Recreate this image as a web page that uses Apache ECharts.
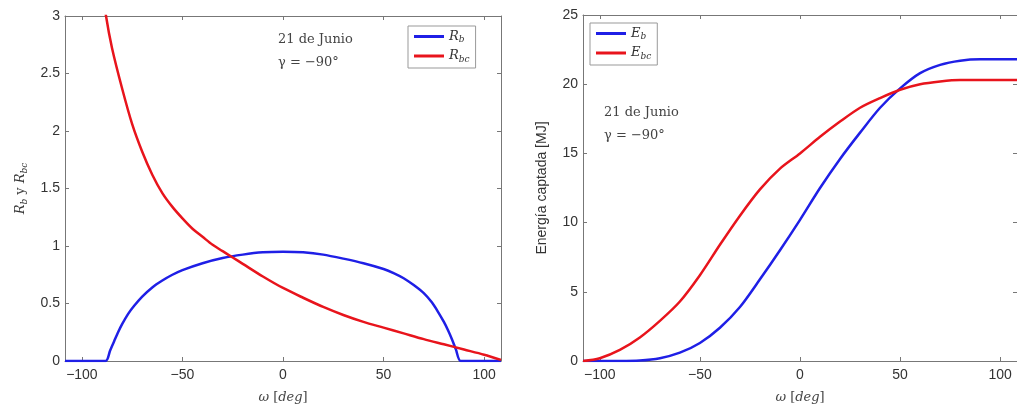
<!DOCTYPE html>
<html>
<head>
<meta charset="utf-8">
<script src="https://cdn.jsdelivr.net/npm/echarts@6/dist/echarts.min.js"></script>
<style>
  html, body { margin: 0; padding: 0; background: #fff; }
  #chart { width: 1017px; height: 409px; }
</style>
</head>
<body>
<div id="chart"></div>
<script>
  // angulo horario [deg]
  var omegaRb = [-108.4, -88.2, -86, -84, -82, -80, -77, -74, -70, -65, -60, -55, -50, -40, -30, -20, -10, 0, 10, 20, 30, 40, 50, 55, 60, 65, 70, 74, 77, 80, 82, 84, 86, 88.4, 108.4]
  var rbValues = [0, 0, 0.09, 0.17, 0.25, 0.32, 0.41, 0.48, 0.56, 0.64, 0.70, 0.75, 0.79, 0.85, 0.895, 0.925, 0.945, 0.95, 0.945, 0.925, 0.89, 0.85, 0.80, 0.765, 0.72, 0.66, 0.59, 0.51, 0.43, 0.34, 0.27, 0.19, 0.10, 0, 0]

  var omegaRbc = [-92, -88, -85, -80, -75, -70, -65, -60, -55, -50, -45, -40, -35, -30, -25, -20, -10, 0, 10, 20, 30, 40, 50, 60, 70, 80, 90, 100, 108.4]
  var rbcValues = [3.5, 3.0, 2.72, 2.37, 2.06, 1.82, 1.62, 1.46, 1.34, 1.24, 1.15, 1.08, 1.01, 0.955, 0.9, 0.845, 0.735, 0.635, 0.55, 0.47, 0.40, 0.34, 0.29, 0.24, 0.19, 0.145, 0.10, 0.055, 0.01]

  var omegaE = [-108.4, -100, -90, -80, -70, -60, -50, -40, -30, -20, -10, 0, 10, 20, 30, 40, 50, 60, 70, 80, 90, 100, 108.4]
  var ebValues = [0, 0, 0, 0.03, 0.2, 0.6, 1.3, 2.4, 3.9, 5.9, 8.0, 10.2, 12.5, 14.6, 16.5, 18.3, 19.7, 20.8, 21.4, 21.7, 21.8, 21.8, 21.8]
  var ebcValues = [0, 0.2, 0.8, 1.7, 2.9, 4.3, 6.2, 8.4, 10.5, 12.4, 13.9, 15.0, 16.2, 17.3, 18.3, 19.0, 19.6, 20.0, 20.2, 20.3, 20.3, 20.3, 20.3]

  var xTicks = [-100, -50, 0, 50, 100]
  var rTicks = [0, 0.5, 1, 1.5, 2, 2.5, 3]
  var eTicks = [0, 5, 10, 15, 20, 25]

  var blue = '#1f1fe6'
  var red = '#e8141c'
  var axisCol = '#777'
  var labelFont = 'Liberation Sans'
  var serif = 'DejaVu Serif'

  function pairs(xs, ys) {
    return xs.map(function (x, i) { return [x, ys[i]] })
  }

  function mainX(grid) {
    return {
      type: 'value', gridIndex: grid, min: -108.4, max: 108.4, position: 'bottom',
      name: '{w|ω} [{w|deg}]', nameLocation: 'middle', nameGap: 30,
      nameTextStyle: { fontFamily: serif, fontSize: 13, color: '#444',
        rich: { w: { fontFamily: serif, fontStyle: 'italic', fontSize: 13, color: '#444' } } },
      axisLine: { show: true, onZero: false, lineStyle: { color: axisCol, width: 1 } },
      axisTick: { show: true, inside: true, length: 4, customValues: xTicks, lineStyle: { color: axisCol } },
      axisLabel: { customValues: xTicks, fontFamily: labelFont, fontSize: 14, color: '#333', margin: 7,
        formatter: function (v) { return String(v).replace('-', '\u2212') } },
      splitLine: { show: false }
    }
  }
  function topX(grid) {
    return {
      type: 'value', gridIndex: grid, min: -108.4, max: 108.4, position: 'top',
      axisLine: { show: true, onZero: false, lineStyle: { color: axisCol, width: 1 } },
      axisTick: { show: true, inside: true, length: 4, customValues: xTicks, lineStyle: { color: axisCol } },
      axisLabel: { show: false }, splitLine: { show: false }
    }
  }
  function mainY(grid, max, ticks, name, nameGap, nameStyle) {
    return {
      type: 'value', gridIndex: grid, min: 0, max: max, position: 'left',
      name: name, nameLocation: 'middle', nameGap: nameGap, nameTextStyle: nameStyle,
      axisLine: { show: true, onZero: false, lineStyle: { color: axisCol, width: 1 } },
      axisTick: { show: true, inside: true, length: 4, customValues: ticks, lineStyle: { color: axisCol } },
      axisLabel: { customValues: ticks, fontFamily: labelFont, fontSize: 14, color: '#333', margin: 5 },
      splitLine: { show: false }
    }
  }
  function rightY(grid, max, ticks) {
    return {
      type: 'value', gridIndex: grid, min: 0, max: max, position: 'right',
      axisLine: { show: true, onZero: false, lineStyle: { color: axisCol, width: 1 } },
      axisTick: { show: true, inside: true, length: 4, customValues: ticks, lineStyle: { color: axisCol } },
      axisLabel: { show: false }, splitLine: { show: false }
    }
  }

  var subRich = {
    i: { fontFamily: serif, fontStyle: 'italic', fontSize: 13, color: '#333' },
    s: { fontFamily: serif, fontStyle: 'italic', fontSize: 9, color: '#333', padding: [7, 0, 0, 0] }
  }
  var legendBase = {
    orient: 'vertical', itemWidth: 30, itemHeight: 3, itemGap: 5, icon: 'rect',
    borderColor: '#999', borderWidth: 1, backgroundColor: '#fff', padding: [4, 6, 4, 6],
    textStyle: { rich: subRich },
    formatter: function (name) {
      var p = name.split('_')
      return '{i|' + p[0] + '}{s|' + p[1] + '}'
    }
  }

  var option = {
    animation: false,
    backgroundColor: '#fff',
    grid: [
      { left: 65, top: 16, width: 436, height: 347 },
      { left: 583, top: 15, width: 436, height: 348 }
    ],
    xAxis: [mainX(0), topX(0), mainX(1), topX(1)],
    yAxis: [
      mainY(0, 3, rTicks, '{i|R}{s|b} y {i|R}{s|bc}', 36,
        { fontFamily: serif, fontSize: 13, color: '#444', rich: subRich }),
      rightY(0, 3, rTicks),
      mainY(1, 25, eTicks, 'Energía captada [MJ]', 34,
        { fontFamily: labelFont, fontSize: 14, color: '#333' }),
      rightY(1, 25, eTicks)
    ],
    legend: [
      Object.assign({}, legendBase, { left: 408, top: 26, data: ['R_b', 'R_bc'] }),
      Object.assign({}, legendBase, { left: 590, top: 23, data: ['E_b', 'E_bc'] })
    ],
    graphic: [
      { type: 'text', left: 278, top: 33, style: { text: '21 de Junio', font: '13px "DejaVu Serif"', fill: '#444' } },
      { type: 'text', left: 278, top: 56, style: { text: 'γ = −90°', font: '13px "DejaVu Serif"', fill: '#444' } },
      { type: 'text', left: 604, top: 106, style: { text: '21 de Junio', font: '13px "DejaVu Serif"', fill: '#444' } },
      { type: 'text', left: 604, top: 129, style: { text: 'γ = −90°', font: '13px "DejaVu Serif"', fill: '#444' } }
    ],
    series: [
      { name: 'R_b', type: 'line', xAxisIndex: 0, yAxisIndex: 0, data: pairs(omegaRb, rbValues),
        showSymbol: false, smooth: 0.25, clip: true, color: blue, lineStyle: { color: blue, width: 2.5 } },
      { name: 'R_bc', type: 'line', xAxisIndex: 0, yAxisIndex: 0, data: pairs(omegaRbc, rbcValues),
        showSymbol: false, smooth: 0.3, clip: true, color: red, lineStyle: { color: red, width: 2.5 } },
      { name: 'E_b', type: 'line', xAxisIndex: 2, yAxisIndex: 2, data: pairs(omegaE, ebValues),
        showSymbol: false, smooth: 0.3, clip: true, color: blue, lineStyle: { color: blue, width: 2.5 } },
      { name: 'E_bc', type: 'line', xAxisIndex: 2, yAxisIndex: 2, data: pairs(omegaE, ebcValues),
        showSymbol: false, smooth: 0.3, clip: true, color: red, lineStyle: { color: red, width: 2.5 } }
    ]
  }

  var myChart = echarts.init(document.getElementById('chart'))
  myChart.setOption(option)
</script>
</body>
</html>
